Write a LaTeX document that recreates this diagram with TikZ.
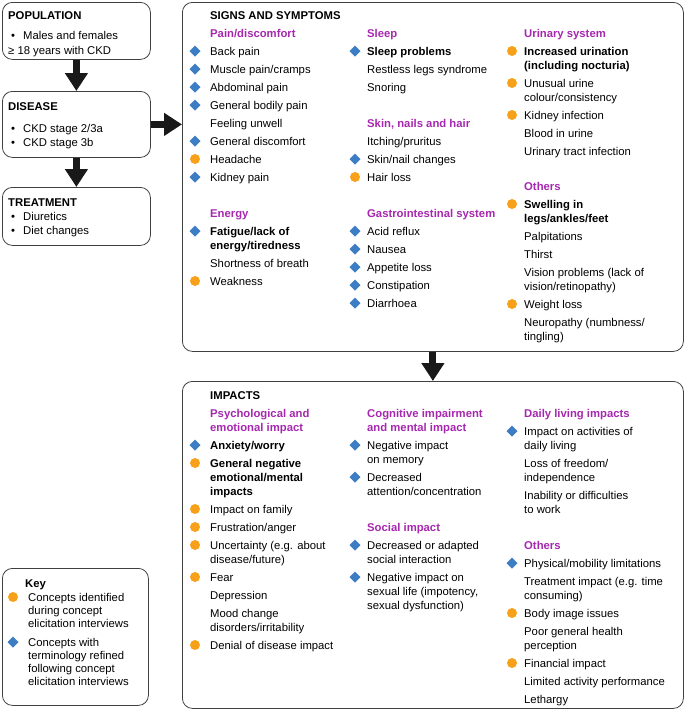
\documentclass[tikz,border=0pt]{standalone}
\usepackage{fontspec}
\setmainfont{Liberation Sans}
\usetikzlibrary{arrows.meta}
\definecolor{keyorange}{HTML}{F7A11A}
\definecolor{keyblue}{HTML}{3D7DC3}
\definecolor{headpurple}{HTML}{A528AF}
\tikzset{
  box/.style={draw=black!75, line width=0.8pt, rounded corners=10pt, anchor=north west, inner sep=0pt},
  txt/.style={anchor=base west, inner sep=0pt, align=left, font=\fontsize{11.3}{14}\selectfont},
  bold/.style={txt, font=\fontsize{11.3}{14}\selectfont\bfseries},
  head/.style={bold, text=headpurple},
  keytxt/.style={txt, font=\fontsize{11.3}{13.3}\selectfont},
  bigarrow/.style={-{Triangle[width=22pt,length=18pt]}, line width=7pt, black!90},
}
\newcommand{\bluediam}[2]{\fill[keyblue] (#1,#2) +(0,-5.5) -- +(5.5,0) -- +(0,5.5) -- +(-5.5,0) -- cycle;}
\newcommand{\orangedot}[2]{\fill[keyorange] (#1,#2) circle (5);}

\begin{document}
\begin{tikzpicture}[x=1pt,y=-1pt]
\useasboundingbox (0,0) rectangle (685,710);
%\draw[red] (0,0) rectangle (685,710);
% note: multi-line texts sit on the baseline of their last line

% left column
\node[box, minimum width=148pt, minimum height=57pt] (pop) at (2,2) {};
\node[box, minimum width=148pt, minimum height=66pt] (dis) at (2,91) {};
\node[box, minimum width=148pt, minimum height=58pt] (treat) at (2,187) {};
\node[box, minimum width=146pt, minimum height=137pt] (key) at (2,568) {};
% right panels
\node[box, minimum width=501pt, minimum height=349pt] (sig) at (182,2) {};
\node[box, minimum width=501pt, minimum height=327pt] (imp) at (182,381) {};

\draw[bigarrow] (pop.south) -- (dis.north);
\draw[bigarrow] (dis.south) -- (treat.north);
\draw[bigarrow] (dis.east) -- (dis.east -| sig.west);
\draw[bigarrow] (sig.south) -- (imp.north);

\node[bold] (popt) at (8,19) {POPULATION};
\node[txt] (popb) at (11,39) {•};
\node[txt] (pop1) at (23,39) {Males and females};
\node[txt] (pop2) at (8,54) {≥ 18 years with CKD};

\node[bold] (dist) at (8,110) {DISEASE};
\node[txt] (disb1) at (11,132) {•};
\node[txt] (dis1) at (23,132) {CKD stage 2/3a};
\node[txt] (disb2) at (11,146) {•};
\node[txt] (dis2) at (23,146) {CKD stage 3b};

\node[bold] (treatt) at (8,206) {TREATMENT};
\node[txt] (treatb1) at (11,220) {•};
\node[txt] (treat1) at (23,220) {Diuretics};
\node[txt] (treatb2) at (11,234) {•};
\node[txt] (treat2) at (23,234) {Diet changes};

% signs and symptoms
\node[bold] (sigt) at (210,19) {SIGNS AND SYMPTOMS};
\node[head] (pain) at (210,37) {Pain/discomfort};
\node[txt] (pain1) at (210,55) {Back pain};
\node[txt] (pain2) at (210,73) {Muscle pain/cramps};
\node[txt] (pain3) at (210,91) {Abdominal pain};
\node[txt] (pain4) at (210,109) {General bodily pain};
\node[txt] (pain5) at (210,127) {Feeling unwell};
\node[txt] (pain6) at (210,145) {General discomfort};
\node[txt] (pain7) at (210,163) {Headache};
\node[txt] (pain8) at (210,181) {Kidney pain};
\node[head] (energy) at (210,217) {Energy};
\node[bold] (energy1) at (210,249) {Fatigue/lack of\\energy/tiredness};
\node[txt] (energy2) at (210,267) {Shortness of breath};
\node[txt] (energy3) at (210,285) {Weakness};

\node[head] (sleep) at (367,37) {Sleep};
\node[bold] (sleep1) at (367,55) {Sleep problems};
\node[txt] (sleep2) at (367,73) {Restless legs syndrome};
\node[txt] (sleep3) at (367,91) {Snoring};
\node[head] (skin) at (367,127) {Skin, nails and hair};
\node[txt] (skin1) at (367,145) {Itching/pruritus};
\node[txt] (skin2) at (367,163) {Skin/nail changes};
\node[txt] (skin3) at (367,181) {Hair loss};
\node[head] (gast) at (367,217) {Gastrointestinal system};
\node[txt] (gast1) at (367,235) {Acid reflux};
\node[txt] (gast2) at (367,253) {Nausea};
\node[txt] (gast3) at (367,271) {Appetite loss};
\node[txt] (gast4) at (367,289) {Constipation};
\node[txt] (gast5) at (367,307) {Diarrhoea};

\node[head] (urin) at (524,37) {Urinary system};
\node[bold] (urin1) at (524,69) {Increased urination\\(including nocturia)};
\node[txt] (urin2) at (524,101) {Unusual urine\\colour/consistency};
\node[txt] (urin3) at (524,119) {Kidney infection};
\node[txt] (urin4) at (524,137) {Blood in urine};
\node[txt] (urin5) at (524,155) {Urinary tract infection};
\node[head] (oth) at (524,190) {Others};
\node[bold] (oth1) at (524,222) {Swelling in\\legs/ankles/feet};
\node[txt] (oth2) at (524,240) {Palpitations};
\node[txt] (oth3) at (524,258) {Thirst};
\node[txt] (oth4) at (524,290) {Vision problems (lack of\\vision/retinopathy)};
\node[txt] (oth5) at (524,308) {Weight loss};
\node[txt] (oth6) at (524,340) {Neuropathy (numbness/\\tingling)};

\foreach \x/\y in {195/51,195/69,195/87,195/105,195/141,195/177,195/231,
                   355/51,355/159,355/231,355/249,355/267,355/285,355/303}
  {\bluediam{\x}{\y}}
\foreach \x/\y in {195/159,195/281,355/177,512/51,512/83,512/115,512/204,512/304}
  {\orangedot{\x}{\y}}

% impacts
\node[bold] (impt) at (210,399) {IMPACTS};
\node[head] (psy) at (210,431) {Psychological and\\emotional impact};
\node[bold] (psy1) at (210,449) {Anxiety/worry};
\node[bold] (psy2) at (210,495) {General negative\\emotional/mental\\impacts};
\node[txt] (psy3) at (210,513) {Impact on family};
\node[txt] (psy4) at (210,531) {Frustration/anger};
\node[txt] (psy5) at (210,563) {Uncertainty (e.g. about\\disease/future)};
\node[txt] (psy6) at (210,581) {Fear};
\node[txt] (psy7) at (210,599) {Depression};
\node[txt] (psy8) at (210,631) {Mood change\\disorders/irritability};
\node[txt] (psy9) at (210,649) {Denial of disease impact};

\node[head] (cog) at (367,431) {Cognitive impairment\\and mental impact};
\node[txt] (cog1) at (367,463) {Negative impact\\on memory};
\node[txt] (cog2) at (367,495) {Decreased\\attention/concentration};
\node[head] (soc) at (367,531) {Social impact};
\node[txt] (soc1) at (367,563) {Decreased or adapted\\social interaction};
\node[txt] (soc2) at (367,609) {Negative impact on\\sexual life (impotency,\\sexual dysfunction)};

\node[head] (daily) at (524,417) {Daily living impacts};
\node[txt] (daily1) at (524,449) {Impact on activities of\\daily living};
\node[txt] (daily2) at (524,481) {Loss of freedom/\\independence};
\node[txt] (daily3) at (524,513) {Inability or difficulties\\to work};
\node[head] (othi) at (524,549) {Others};
\node[txt] (othi1) at (524,567) {Physical/mobility limitations};
\node[txt] (othi2) at (524,599) {Treatment impact (e.g. time\\consuming)};
\node[txt] (othi3) at (524,617) {Body image issues};
\node[txt] (othi4) at (524,649) {Poor general health\\perception};
\node[txt] (othi5) at (524,667) {Financial impact};
\node[txt] (othi6) at (524,685) {Limited activity performance};
\node[txt] (othi7) at (524,703) {Lethargy};

\foreach \x/\y in {195/445,355/445,355/477,355/545,355/577,512/431,512/563}
  {\bluediam{\x}{\y}}
\foreach \x/\y in {195/463,195/509,195/527,195/545,195/577,195/645,512/613,512/663}
  {\orangedot{\x}{\y}}

% key
\node[bold] (keyt) at (25,587) {Key};
\node[keytxt] (key1) at (28,627.6) {Concepts identified\\during concept\\elicitation interviews};
\node[keytxt] (key2) at (28,685.9) {Concepts with\\terminology refined\\following concept\\elicitation interviews};
\orangedot{13}{597}
\bluediam{13}{642}
\end{tikzpicture}
\end{document}
